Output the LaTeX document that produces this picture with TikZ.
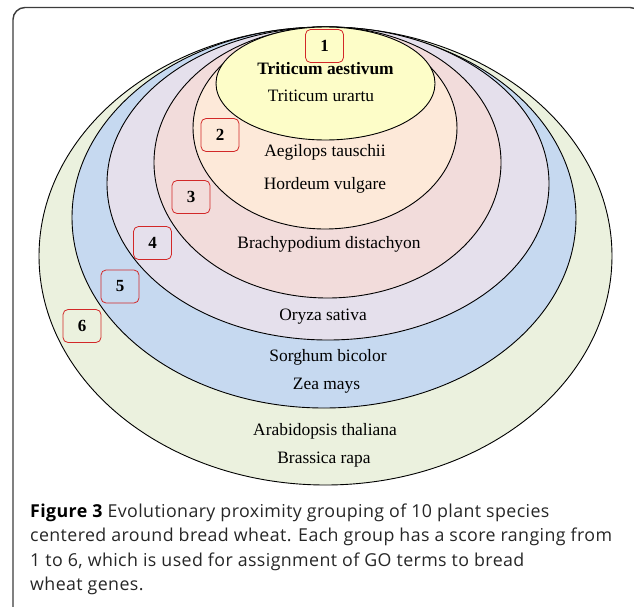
\documentclass[tikz,border=0pt]{standalone}
\usepackage{fontspec}
\setmainfont{Liberation Serif}
\newfontfamily\capfont[LetterSpace=2.2]{Open Sans}
\definecolor{cyel}{RGB}{253,253,200}
\definecolor{cpea}{RGB}{253,233,217}
\definecolor{cpin}{RGB}{242,220,219}
\definecolor{clav}{RGB}{229,224,236}
\definecolor{cblu}{RGB}{198,217,240}
\definecolor{cgre}{RGB}{235,241,222}
\definecolor{cred}{RGB}{210,40,40}
\definecolor{cframe}{RGB}{60,60,60}
\tikzset{
  ring/.style={draw=black, line width=0.9pt},
  sp/.style={font=\fontsize{17.4pt}{20pt}\selectfont, anchor=base, inner sep=0pt},
  spb/.style={font=\fontsize{17.4pt}{20pt}\selectfont\bfseries, anchor=base, inner sep=0pt},
  score/.style={draw=cred, line width=0.8pt, rounded corners=5pt, minimum width=38pt, minimum height=33pt, inner sep=0pt, font=\fontsize{17pt}{20pt}\selectfont\bfseries},
  capline/.style={font=\capfont\fontsize{17.8pt}{24.5pt}\selectfont, text=black!85, anchor=base west, inner sep=0pt}
}
\begin{document}
\begin{tikzpicture}[x=1pt,y=-1pt]
\useasboundingbox (0,0) rectangle (634,607);
\begin{scope}
\clip (0,0) rectangle (634,607);
\draw[cframe, line width=1.4pt, rounded corners=12pt] (13,640) -- (13,7.5) -- (642,7.5) -- (642,640);
\end{scope}
% rings
\draw[ring, fill=cgre] (325.5,256) ellipse [x radius=286.5pt, y radius=229pt];
\draw[ring, fill=cblu] (324,217.5) ellipse [x radius=252pt, y radius=190.5pt];
\draw[ring, fill=clav] (328,183.5) ellipse [x radius=221pt, y radius=156.5pt];
\draw[ring, fill=cpin] (327.5,162.5) ellipse [x radius=173.5pt, y radius=135.5pt];
\draw[ring, fill=cpea] (325,128) ellipse [x radius=132pt, y radius=101pt];
\draw[ring, fill=cyel] (325.5,83.5) ellipse [x radius=109.5pt, y radius=56.5pt];
% species
\node[spb] (ta) at (325.5,75) {Triticum aestivum};
\node[sp] (tu) at (321,102) {Triticum urartu};
\node[sp] (at) at (325,157) {Aegilops tauschii};
\node[sp] (hv) at (325,189) {Hordeum vulgare};
\node[sp] (bd) at (329,248) {Brachypodium distachyon};
\node[sp] (os) at (323,320) {Oryza sativa};
\node[sp] (sb) at (328,361) {Sorghum bicolor};
\node[sp] (zm) at (326.5,389) {Zea mays};
\node[sp] (ath) at (325,435) {Arabidopsis thaliana};
\node[sp] (br) at (324,463) {Brassica rapa};
% scores
\node[score] (s1) at (324.5,46) {1};
\node[score] (s2) at (220,135) {2};
\node[score] (s3) at (191,197) {3};
\node[score] (s4) at (152.5,243) {4};
\node[score] (s5) at (120,286.5) {5};
\node[score] (s6) at (82,326) {6};
% caption
\node[capline] (c1) at (30,517) {\textbf{\textcolor{black}{Figure 3}} Evolutionary proximity grouping of 10 plant species};
\node[capline] (c2) at (30,541.5) {centered around bread wheat. Each group has a score ranging from};
\node[capline] (c3) at (30,566) {1 to 6, which is used for assignment of GO terms to bread};
\node[capline] (c4) at (30,590.5) {wheat genes.};
\end{tikzpicture}
\end{document}
